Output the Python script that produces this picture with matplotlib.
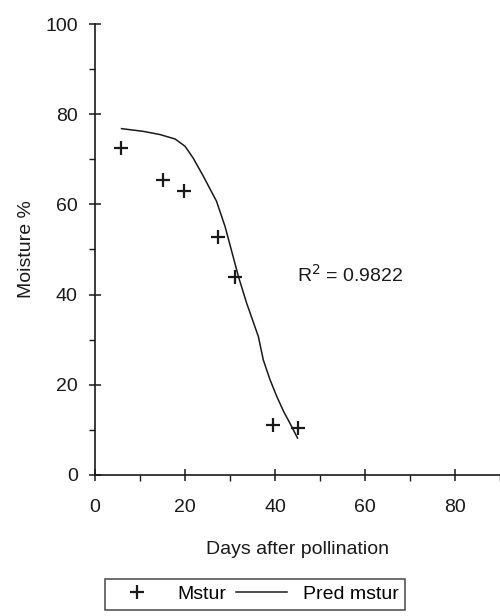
import matplotlib
matplotlib.use("Agg")
import matplotlib.pyplot as plt
from matplotlib.ticker import MultipleLocator

plt.rcParams['font.family'] = ['Liberation Sans', 'DejaVu Sans']

# observed moisture (Mstur)
days_obs = [5.8, 15.0, 19.8, 27.3, 31.1, 39.6, 45.2]
moist_obs = [72.4, 65.3, 62.9, 52.8, 43.9, 11.1, 10.4]

# predicted curve (Pred mstur)
days_pred = [5.9, 10.7, 14.4, 17.8, 20.0, 21.8, 24.1, 27.0, 28.9, 30.7, 31.9,
             33.7, 36.3, 37.4, 38.9, 40.4, 41.9, 43.3, 45.0]
moist_pred = [76.8, 76.2, 75.5, 74.5, 72.9, 70.3, 66.2, 60.7, 55.1, 48.4, 43.9,
              38.1, 30.7, 25.5, 21.1, 17.4, 14.1, 11.5, 8.2]

r2_label = "R$^2$ = 0.9822"

fig = plt.figure(figsize=(5, 6.16), dpi=100)
ax = fig.add_axes([0.19, 0.229, 0.81, 0.732])

ax.plot(days_obs, moist_obs, linestyle='none', marker='+', color='#1a1a1a',
        markersize=10, markeredgewidth=1.6, label='Mstur')
ax.plot(days_pred, moist_pred, color='#1a1a1a', linewidth=1.1, label='Pred mstur')

ax.text(44.8, 44.3, r2_label, fontsize=14, va='center', ha='left', color='#1a1a1a')

ax.set_xlim(0, 90)
ax.set_ylim(0, 100)
ax.xaxis.set_minor_locator(MultipleLocator(10))
ax.yaxis.set_major_locator(MultipleLocator(20))
ax.yaxis.set_minor_locator(MultipleLocator(10))
ax.set_xticks([0, 20, 40, 60, 80])

for s in ['top', 'right']:
    ax.spines[s].set_visible(False)
for s in ['left', 'bottom']:
    ax.spines[s].set_linewidth(1.2)
    ax.spines[s].set_color('#1a1a1a')

ax.tick_params(which='major', direction='inout', length=9, width=1.1,
               labelsize=14, colors='#1a1a1a')
ax.tick_params(which='minor', direction='out', length=4, width=1.0, colors='#1a1a1a')
ax.tick_params(axis='x', which='major', pad=13)
ax.tick_params(axis='y', which='major', pad=8)

ax.set_xlabel('Days after pollination', fontsize=14, labelpad=18, color='#1a1a1a')
ax.set_ylabel('Moisture %', fontsize=14, labelpad=7, color='#1a1a1a')

leg = fig.legend(loc='center', bbox_to_anchor=(0.51, 0.035), ncol=2,
                 fontsize=14, frameon=True, fancybox=False, edgecolor='#1a1a1a',
                 handlelength=2.6, columnspacing=0.5, handletextpad=0.8,
                 borderpad=0.35)
leg.get_frame().set_linewidth(1.1)

fig.savefig('out.png', dpi=100)
